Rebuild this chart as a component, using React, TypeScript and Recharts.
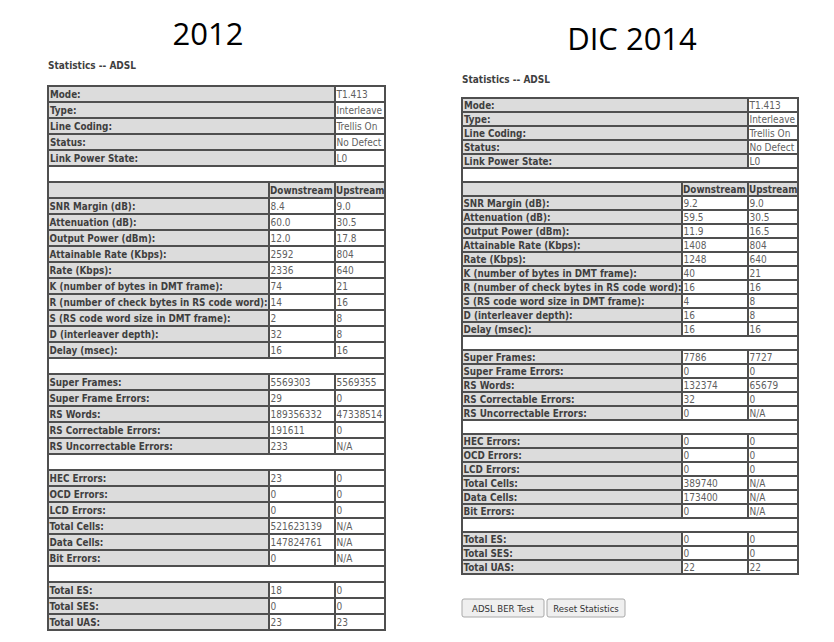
import React from "react";
import { Surface, Rectangle } from "recharts";

// ADSL statistics, two router snapshots side by side

const generalLabels = ["Mode:", "Type:", "Line Coding:", "Status:", "Link Power State:"];
const general2012 = ["T1.413", "Interleave", "Trellis On", "No Defect", "L0"];
const general2014 = ["T1.413", "Interleave", "Trellis On", "No Defect", "L0"];

const streamHeaders = ["Downstream", "Upstream"];

const lineLabels = [
  "SNR Margin (dB):",
  "Attenuation (dB):",
  "Output Power (dBm):",
  "Attainable Rate (Kbps):",
  "Rate (Kbps):",
  "K (number of bytes in DMT frame):",
  "R (number of check bytes in RS code word):",
  "S (RS code word size in DMT frame):",
  "D (interleaver depth):",
  "Delay (msec):",
];
const line2012Down = ["8.4", "60.0", "12.0", "2592", "2336", "74", "14", "2", "32", "16"];
const line2012Up = ["9.0", "30.5", "17.8", "804", "640", "21", "16", "8", "8", "16"];
const line2014Down = ["9.2", "59.5", "11.9", "1408", "1248", "40", "16", "4", "16", "16"];
const line2014Up = ["9.0", "30.5", "16.5", "804", "640", "21", "16", "8", "8", "16"];

const frameLabels = [
  "Super Frames:",
  "Super Frame Errors:",
  "RS Words:",
  "RS Correctable Errors:",
  "RS Uncorrectable Errors:",
];
const frame2012Down = ["5569303", "29", "189356332", "191611", "233"];
const frame2012Up = ["5569355", "0", "47338514", "0", "N/A"];
const frame2014Down = ["7786", "0", "132374", "32", "0"];
const frame2014Up = ["7727", "0", "65679", "0", "N/A"];

const cellLabels = [
  "HEC Errors:",
  "OCD Errors:",
  "LCD Errors:",
  "Total Cells:",
  "Data Cells:",
  "Bit Errors:",
];
const cell2012Down = ["23", "0", "0", "521623139", "147824761", "0"];
const cell2012Up = ["0", "0", "0", "N/A", "N/A", "N/A"];
const cell2014Down = ["0", "0", "0", "389740", "173400", "0"];
const cell2014Up = ["0", "0", "0", "N/A", "N/A", "N/A"];

const secLabels = ["Total ES:", "Total SES:", "Total UAS:"];
const sec2012Down = ["18", "0", "23"];
const sec2012Up = ["0", "0", "23"];
const sec2014Down = ["0", "0", "22"];
const sec2014Up = ["0", "0", "22"];

const buttonLabels = ["ADSL BER Test", "Reset Statistics"];

type Row =
  | { kind: "single"; label: string; value: string }
  | { kind: "blank" }
  | { kind: "header" }
  | { kind: "pair"; label: string; down: string; up: string };

const pairs = (labels: string[], down: string[], up: string[]): Row[] =>
  labels.map((label, i) => ({ kind: "pair", label, down: down[i], up: up[i] }));

const buildRows = (
  general: string[],
  lineDown: string[], lineUp: string[],
  frameDown: string[], frameUp: string[],
  cellDown: string[], cellUp: string[],
  secDown: string[], secUp: string[]
): Row[] => [
  ...generalLabels.map((label, i) => ({ kind: "single", label, value: general[i] } as Row)),
  { kind: "blank" },
  { kind: "header" },
  ...pairs(lineLabels, lineDown, lineUp),
  { kind: "blank" },
  ...pairs(frameLabels, frameDown, frameUp),
  { kind: "blank" },
  ...pairs(cellLabels, cellDown, cellUp),
  { kind: "blank" },
  ...pairs(secLabels, secDown, secUp),
];

const rows2012 = buildRows(
  general2012, line2012Down, line2012Up, frame2012Down, frame2012Up,
  cell2012Down, cell2012Up, sec2012Down, sec2012Up
);
const rows2014 = buildRows(
  general2014, line2014Down, line2014Up, frame2014Down, frame2014Up,
  cell2014Down, cell2014Up, sec2014Down, sec2014Up
);

const FONT = "'DejaVu Sans Condensed', 'DejaVu Sans', Verdana, sans-serif";
const BORDER = "#4f4f4f";
const GREY = "#dcdcdc";
const LABEL_COLOR = "#3f3f3f";
const VALUE_COLOR = "#5f5f5f";

interface TableProps {
  rows: Row[];
  top: number;
  rowH: number;
  cols: [number, number, number, number];
}

function StatsTable({ rows, top, rowH, cols }: TableProps) {
  const [c0, c1, c2, c3] = cols;
  const h = rowH - 2;

  const cell = (key: string, x0: number, x1: number, y: number, fill: string) => (
    <Rectangle key={key} x={x0 + 2} y={y} width={x1 - x0 - 2} height={h} fill={fill} />
  );
  const label = (key: string, x: number, y: number, text: string, pad = 3) => (
    <text key={key} x={x + pad} y={y + h / 2} dominantBaseline="central"
      fontFamily={FONT} fontStretch="condensed" fontWeight="bold" fontSize={9.8} fill={LABEL_COLOR}>
      {text}
    </text>
  );
  const value = (key: string, x: number, y: number, text: string) => (
    <text key={key} x={x + 2.5} y={y + h / 2} dominantBaseline="central"
      fontFamily={FONT} fontStretch="condensed" fontSize={10} fill={VALUE_COLOR}>
      {text}
    </text>
  );

  return (
    <g>
      <Rectangle x={c0} y={top} width={c3 - c0 + 2} height={rows.length * rowH + 2} fill={BORDER} />
      {rows.map((row, i) => {
        const y = top + i * rowH + 2;
        const k = `r${i}`;
        if (row.kind === "blank") return <g key={k}>{cell("b", c0, c3, y, "#fff")}</g>;
        if (row.kind === "single")
          return (
            <g key={k}>
              {cell("l", c0, c2, y, GREY)}
              {cell("v", c2, c3, y, "#fff")}
              {label("lt", c0, y, row.label)}
              {value("vt", c2, y, row.value)}
            </g>
          );
        if (row.kind === "header")
          return (
            <g key={k}>
              {cell("l", c0, c1, y, GREY)}
              {cell("d", c1, c2, y, GREY)}
              {cell("u", c2, c3, y, GREY)}
              {label("dt", c1, y, streamHeaders[0], 2)}
              {label("ut", c2, y, streamHeaders[1], 2)}
            </g>
          );
        return (
          <g key={k}>
            {cell("l", c0, c1, y, GREY)}
            {cell("d", c1, c2, y, "#fff")}
            {cell("u", c2, c3, y, "#fff")}
            {label("lt", c0, y, row.label, 2.5)}
            {value("dt", c1, y, row.down)}
            {value("ut", c2, y, row.up)}
          </g>
        );
      })}
    </g>
  );
}

export default function App() {
  return (
    <div style={{ position: "absolute", left: 0, top: 0, width: 834, height: 642, background: "#fff" }}>
      <Surface width={834} height={642}>
        <text x={208} y={45} textAnchor="middle" fontFamily="'Open Sans', sans-serif" fontSize={31} fill="#000">
          2012
        </text>
        <text x={632} y={50} textAnchor="middle" fontFamily="'Open Sans', sans-serif" fontSize={31} fill="#000">
          DIC 2014
        </text>

        <text x={48} y={69} fontFamily={FONT} fontStretch="condensed" fontWeight="bold" fontSize={10} fill={LABEL_COLOR}>
          Statistics -- ADSL
        </text>
        <text x={462} y={83} fontFamily={FONT} fontStretch="condensed" fontWeight="bold" fontSize={10} fill={LABEL_COLOR}>
          Statistics -- ADSL
        </text>

        <StatsTable rows={rows2012} top={85} rowH={16} cols={[47, 268, 334, 384]} />
        <StatsTable rows={rows2014} top={97} rowH={14} cols={[461, 681, 747, 797]} />

        <Rectangle x={462} y={599} width={82} height={18} radius={2} fill="#efefef" stroke="#a9a9a9" />
        <text x={503} y={608} textAnchor="middle" dominantBaseline="central" fontFamily={FONT}
          fontStretch="condensed" fontSize={9.5} fill="#333">
          {buttonLabels[0]}
        </text>
        <Rectangle x={547} y={599} width={78} height={18} radius={2} fill="#efefef" stroke="#a9a9a9" />
        <text x={586} y={608} textAnchor="middle" dominantBaseline="central" fontFamily={FONT}
          fontStretch="condensed" fontSize={9.5} fill="#333">
          {buttonLabels[1]}
        </text>
      </Surface>
    </div>
  );
}
